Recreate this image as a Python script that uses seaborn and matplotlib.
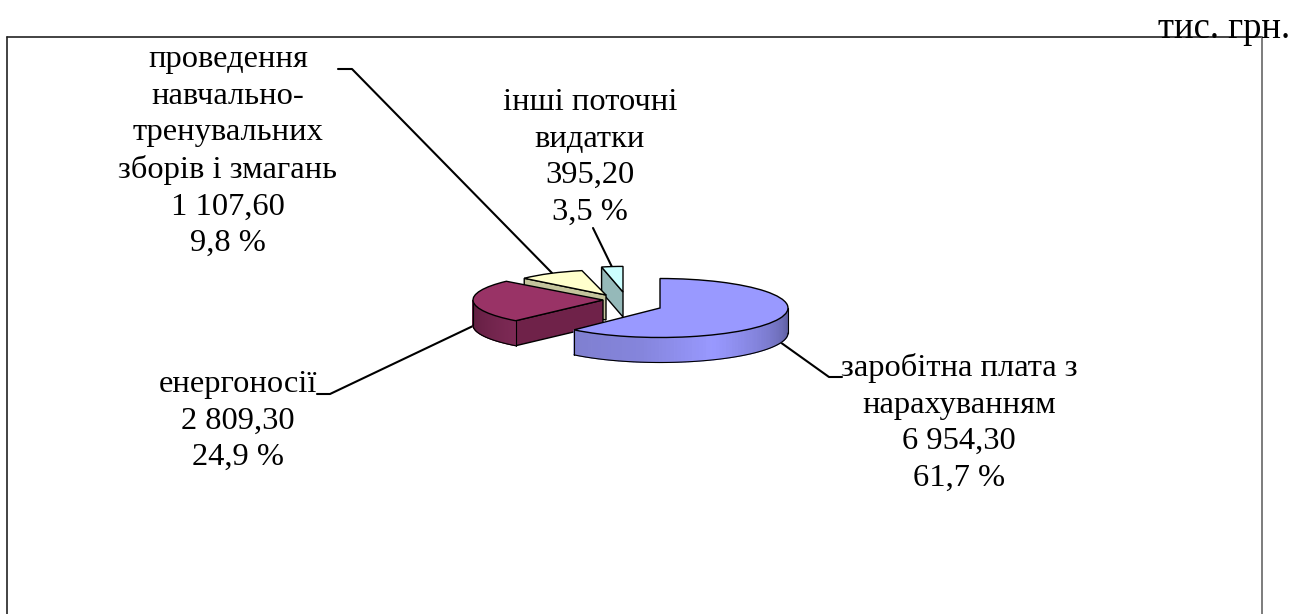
import numpy as np
import matplotlib
matplotlib.use('Agg')
import matplotlib.pyplot as plt
from matplotlib.transforms import Affine2D
import seaborn as sns

# values, thousand UAH
names = ["заробітна плата з\nнарахуванням", "енергоносії",
         "проведення\nнавчально-\nтренувальних\nзборів і змагань", "інші поточні\nвидатки"]
values = [6954.30, 2809.30, 1107.60, 395.20]
value_labels = ["6 954,30", "2 809,30", "1 107,60", "395,20"]
pct_labels = ["61,7 %", "24,9 %", "9,8 %", "3,5 %"]
unit_label = "тис. грн."

top_colors = ["#9999ff", "#993366", "#ffffcc", "#ccffff"]
face_colors = [None, "#6f2249", "#c4c49c", "#95b9b9"]
# wedge layout in pixels: centre x, centre y, radius x, radius y
layout = [(660, 308, 128, 29.5), (603, 300, 130, 28), (606, 295, 110, 25), (623, 292, 98, 25.6)]
depth = 25
zorder = [5, 4, 3, 2]
wall_cols = {0: ["#7f7fd0", "#8585dc", "#9999ff", "#7c7cd0", "#5a5a99"], 1: ["#5a1d3d", "#6d2249", "#7d2a55"]}
label_pos = [(959, 423), (238, 421), (228, 151.5), (590, 157.5)]
leaders = [([842, 829, 780], [377, 377, 342]),
           ([317, 330, 473], [394, 394, 326]),
           ([338, 352, 552], [69, 69, 273]),
           ([593, 612], [228, 267])]


def ell(p, deg):
    a = np.radians(deg)
    return p[0] + p[2] * np.cos(a), p[1] - p[3] * np.sin(a)


def main():
    sns.set_theme(style="white")
    plt.rcParams['font.family'] = ['Liberation Serif', 'DejaVu Serif']
    fig = plt.figure(figsize=(13.04, 6.14), dpi=100)
    ax = fig.add_axes([0, 0, 1, 1])

    wedges, _ = ax.pie(values, startangle=90, counterclock=False,
                       colors=top_colors, wedgeprops={"edgecolor": "black", "linewidth": 1})
    ax.set_aspect('auto')
    ax.set_xlim(0, 1304)
    ax.set_ylim(614, 0)
    ax.axis('off')

    for i, w in enumerate(wedges):
        p = layout[i]
        w.set_transform(Affine2D().scale(p[2], -p[3]).translate(p[0], p[1]) + ax.transData)
        w.set_zorder(zorder[i] + 0.5)
        t1, t2 = w.theta1 + 360, w.theta2 + 360

        # flat cut face along the slice's clockwise-start edge
        if face_colors[i] is not None:
            x, y = ell(p, t2)
            ax.fill([x, p[0], p[0], x], [y, p[1], p[1] + depth, y + depth],
                    facecolor=face_colors[i], edgecolor="black", lw=1, zorder=zorder[i])

        # curved outer wall, only the front half shows
        if i in wall_cols:
            ang = np.linspace(max(t1, 180), min(t2, 360), 80)
            shades = sns.blend_palette(wall_cols[i], len(ang))
            for k in range(len(ang) - 1):
                x0, y0 = ell(p, ang[k])
                x1, y1 = ell(p, ang[k + 1])
                ax.fill([x0, x1, x1, x0], [y0, y1, y1 + depth, y0 + depth],
                        facecolor=shades[k], edgecolor=shades[k], lw=0.8, zorder=zorder[i])
            xs, ys = ell(p, ang)
            ax.plot(xs, ys + depth, color="black", lw=0.8, zorder=zorder[i] + 0.2)
            ax.plot([xs[0], xs[0]], [ys[0], ys[0] + depth], color="black", lw=0.8, zorder=zorder[i] + 0.2)
            ax.plot([xs[-1], xs[-1]], [ys[-1], ys[-1] + depth], color="black", lw=0.8, zorder=zorder[i] + 0.2)

    for lx, ly in leaders:
        ax.plot(lx, ly, color="black", lw=1.5, zorder=1)

    for i in range(len(values)):
        ax.text(label_pos[i][0], label_pos[i][1],
                names[i] + "\n" + value_labels[i] + "\n" + pct_labels[i],
                ha="center", va="center", ma="center", fontsize=23.4, linespacing=1.34, color="black")
    ax.text(1290, 29, unit_label, ha="right", va="center", fontsize=26.4, color="black")

    # chart frame, the bottom edge falls outside the picture
    ax.plot([7, 1262], [36.5, 36.5], color="#222222", lw=1.2, zorder=1)
    ax.plot([7, 7], [36.5, 614], color="#222222", lw=1.2, zorder=1)
    ax.plot([1262, 1262], [36.5, 614], color="#666666", lw=1.2, zorder=1)

    plt.savefig("out.png", dpi=100)


if __name__ == "__main__":
    main()
